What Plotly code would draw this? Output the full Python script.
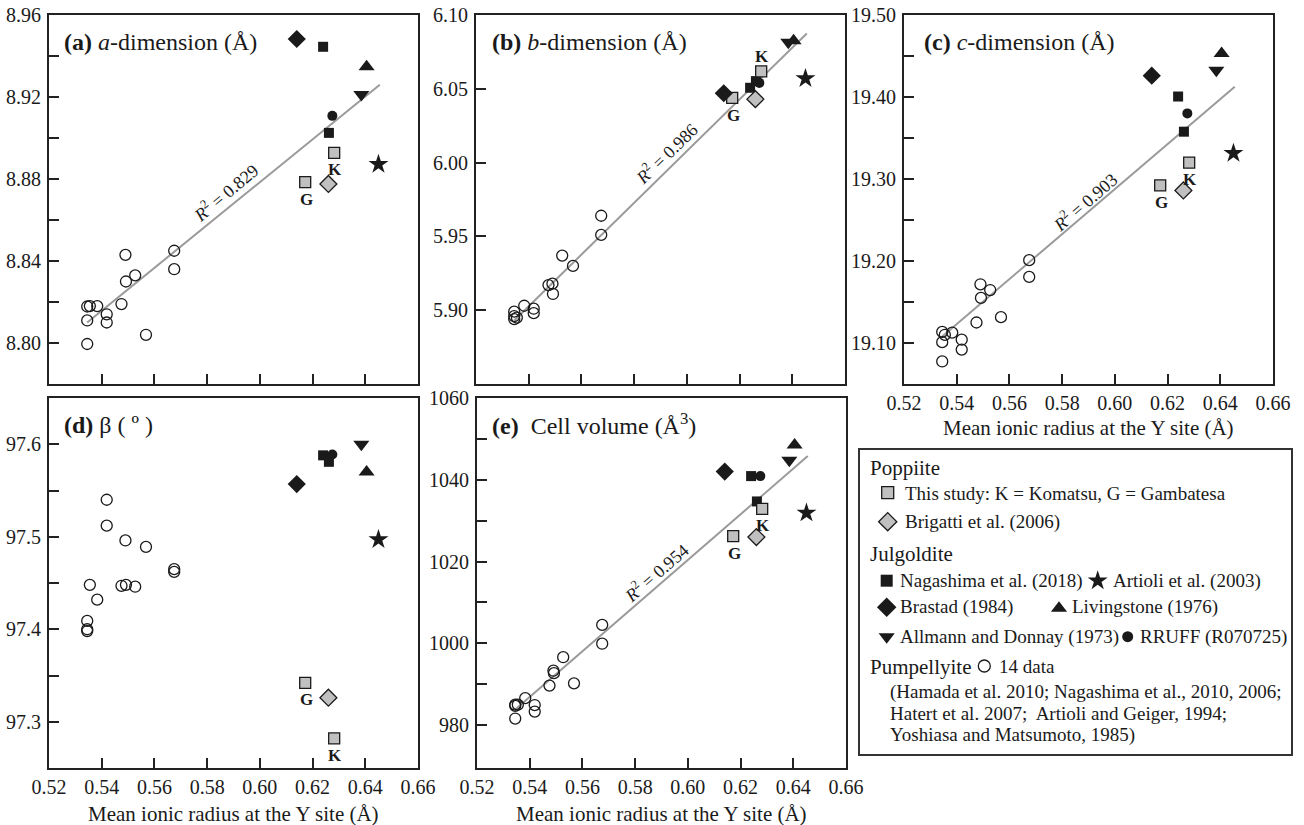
import plotly.graph_objects as go

W, H = 1304, 825
FONT = "Liberation Serif"
INK = "#1a1a1a"
GRAY = "#c0c0c0"
LINE_GRAY = "#9a9a9a"

# ---------------- data ----------------
x_ticks = [0.52, 0.54, 0.56, 0.58, 0.60, 0.62, 0.64, 0.66]
a_ticks = [8.80, 8.84, 8.88, 8.92, 8.96]
b_ticks = [5.90, 5.95, 6.00, 6.05, 6.10]
c_ticks = [19.10, 19.20, 19.30, 19.40, 19.50]
beta_ticks = [97.3, 97.4, 97.5, 97.6]
v_ticks = [980, 1000, 1020, 1040, 1060]
v_minor = [990, 1010, 1030, 1050]

# Pumpellyite, 14 data
x_pump = [0.5345, 0.5345, 0.5345, 0.5355, 0.5383, 0.5419, 0.5419,
          0.5475, 0.5490, 0.5492, 0.5527, 0.5568, 0.5675, 0.5675]
a_pump = [8.8178, 8.8110, 8.7995, 8.8180, 8.8180, 8.8140, 8.8100,
          8.8190, 8.8430, 8.8300, 8.8330, 8.8040, 8.8450, 8.8360]
b_pump = [5.8990, 5.8940, 5.8960, 5.8950, 5.9030, 5.9010, 5.8980,
          5.9170, 5.9180, 5.9110, 5.9370, 5.9300, 5.9640, 5.9510]
c_pump = [19.1135, 19.1010, 19.0775, 19.1100, 19.1127, 19.1040, 19.0920,
          19.1250, 19.1716, 19.1550, 19.1646, 19.1315, 19.2010, 19.1806]
beta_pump = [97.409, 97.400, 97.398, 97.448, 97.432, 97.540, 97.512,
             97.447, 97.496, 97.448, 97.446, 97.489, 97.465, 97.462]
v_pump = [984.7, 981.6, 985.0, 985.0, 986.6, 984.9, 983.3,
          989.65, 993.3, 992.7, 996.6, 990.2, 1004.5, 999.9]

# Poppiite, this study (G = Gambatesa, K = Komatsu)
this_labels = ["G", "K"]
x_this = [0.6172, 0.6282]
a_this = [8.8785, 8.8927]
b_this = [6.0439, 6.0618]
c_this = [19.2922, 19.3200]
beta_this = [97.342, 97.282]
v_this = [1026.2, 1032.9]

# Poppiite, Brigatti et al. (2006)
x_brig = [0.6260]
a_brig = [8.8776]
b_brig = [6.0430]
c_brig = [19.2860]
beta_brig = [97.326]
v_brig = [1026.0]

# Julgoldite, Nagashima et al. (2018)
x_naga = [0.6240, 0.6262]
a_naga = [8.9445, 8.9025]
b_naga = [6.0507, 6.0552]
c_naga = [19.4006, 19.3577]
beta_naga = [97.588, 97.581]
v_naga = [1040.9, 1034.7]

# Julgoldite, Artioli et al. (2003)
x_art = [0.6450]
a_art = [8.8872]
b_art = [6.0570]
c_art = [19.3315]
beta_art = [97.497]
v_art = [1031.9]

# Julgoldite, Brastad (1984)
x_bras = [0.6140]
a_bras = [8.9483]
b_bras = [6.0470]
c_bras = [19.4260]
beta_bras = [97.557]
v_bras = [1042.0]

# Julgoldite, Livingstone (1976)
x_liv = [0.6405]
a_liv = [8.9347]
b_liv = [6.0825]
c_liv = [19.4530]
beta_liv = [97.570]
v_liv = [1048.5]

# Julgoldite, Allmann and Donnay (1973)
x_all = [0.6385]
a_all = [8.9212]
b_all = [6.0816]
c_all = [19.4325]
beta_all = [97.600]
v_all = [1044.8]

# Julgoldite, RRUFF (R070725)
x_rruff = [0.6275]
a_rruff = [8.9108]
b_rruff = [6.0540]
c_rruff = [19.3800]
beta_rruff = [97.589]
v_rruff = [1040.9]

# Regression lines (end points)
fit_x = [0.5345, 0.6455]
fit_a = [8.810, 8.926]
fit_b = [5.893, 6.0875]
fit_c = [19.108, 19.4125]
fit_v = [983.8, 1045.8]
r2_text = ["0.829", "0.986", "0.903", "0.954"]

# ---------------- layout geometry (pixels) ----------------
def px_x(p):
    return p / W

def px_y(p):
    return 1 - p / H

panels = {
    "a": dict(x0=49, x1=418, y0=15, y1=384),
    "b": dict(x0=476, x1=845, y0=15, y1=384),
    "c": dict(x0=904, x1=1273, y0=15, y1=384),
    "d": dict(x0=49, x1=418, y0=398, y1=768),
    "e": dict(x0=477, x1=846, y0=398, y1=768),
}

fig = go.Figure()

marker_styles = {
    "pump": dict(symbol="circle-open", size=11, color=INK, line=dict(width=1.3, color=INK)),
    "this": dict(symbol="square", size=11, color=GRAY, line=dict(width=1.3, color=INK)),
    "brig": dict(symbol="diamond", size=13, color=GRAY, line=dict(width=1.3, color=INK)),
    "naga": dict(symbol="square", size=10, color=INK, line=dict(width=0, color=INK)),
    "art": dict(symbol="star", size=15, color=INK, line=dict(width=0, color=INK)),
    "bras": dict(symbol="diamond", size=14, color=INK, line=dict(width=0, color=INK)),
    "liv": dict(symbol="triangle-up", size=14, color=INK, line=dict(width=0, color=INK)),
    "all": dict(symbol="triangle-down", size=14, color=INK, line=dict(width=0, color=INK)),
    "rruff": dict(symbol="circle", size=10, color=INK, line=dict(width=0, color=INK)),
}

panel_data = [
    ("a", "", dict(pump=a_pump, this=a_this, brig=a_brig, rruff=a_rruff, naga=a_naga,
                   art=a_art, bras=a_bras, liv=a_liv, all=a_all), fit_a),
    ("b", "2", dict(pump=b_pump, this=b_this, brig=b_brig, rruff=b_rruff, naga=b_naga,
                    art=b_art, bras=b_bras, liv=b_liv, all=b_all), fit_b),
    ("c", "3", dict(pump=c_pump, this=c_this, brig=c_brig, rruff=c_rruff, naga=c_naga,
                    art=c_art, bras=c_bras, liv=c_liv, all=c_all), fit_c),
    ("d", "4", dict(pump=beta_pump, this=beta_this, brig=beta_brig, rruff=beta_rruff, naga=beta_naga,
                    art=beta_art, bras=beta_bras, liv=beta_liv, all=beta_all), None),
    ("e", "5", dict(pump=v_pump, this=v_this, brig=v_brig, rruff=v_rruff, naga=v_naga,
                    art=v_art, bras=v_bras, liv=v_liv, all=v_all), fit_v),
]

x_by_series = dict(pump=x_pump, this=x_this, brig=x_brig, rruff=x_rruff, naga=x_naga,
                   art=x_art, bras=x_bras, liv=x_liv, all=x_all)

annotations = []

for key, sfx, series, fit in panel_data:
    xa, ya = "x" + sfx, "y" + sfx
    if fit is not None:
        fig.add_trace(go.Scatter(x=fit_x, y=fit, mode="lines", xaxis=xa, yaxis=ya,
                                 line=dict(color=LINE_GRAY, width=2), hoverinfo="skip",
                                 showlegend=False))
    for name in ["pump", "rruff", "naga", "this", "brig", "art", "bras", "liv", "all"]:
        fig.add_trace(go.Scatter(x=x_by_series[name], y=series[name], mode="markers",
                                 xaxis=xa, yaxis=ya, marker=marker_styles[name],
                                 hoverinfo="skip", showlegend=False, cliponaxis=False))
    # G / K labels
    for lab, xv, yv in zip(this_labels, x_this, series["this"]):
        shift = -17
        if key == "b" and lab == "K":
            shift = 15
        if key == "b" and lab == "G":
            shift = -18
        annotations.append(dict(x=xv, y=yv, xref=xa, yref=ya, text="<b>%s</b>" % lab,
                                showarrow=False, yshift=shift, xshift=1,
                                font=dict(family=FONT, size=17, color=INK)))

# R^2 annotations along regression lines
r2_pos = [
    ("", 0.5870, 8.8732, -40),
    ("2", 0.5920, 6.0064, -44),
    ("3", 0.5888, 19.272, -41),
    ("5", 0.5879, 1017.3, -41),
]
for (sfx, xv, yv, ang), r2 in zip(r2_pos, r2_text):
    annotations.append(dict(x=xv, y=yv, xref="x" + sfx, yref="y" + sfx,
                            text="<i>R</i><sup>2</sup> = %s" % r2, textangle=ang,
                            showarrow=False, font=dict(family=FONT, size=18, color=INK)))

# Panel titles
titles = [
    ("a", "<b>(a)</b> <i>a</i>-dimension (Å)", 62, 42),
    ("b", "<b>(b)</b> <i>b</i>-dimension (Å)", 490, 42),
    ("c", "<b>(c)</b> <i>c</i>-dimension (Å)", 922, 42),
    ("d", "<b>(d)</b> β ( º )", 62, 425),
    ("e", "<b>(e)</b>  Cell volume (Å<sup>3</sup>)", 490, 424),
]
for _, txt, tx, ty in titles:
    annotations.append(dict(x=px_x(tx), y=px_y(ty), xref="paper", yref="paper",
                            xanchor="left", yanchor="middle", text=txt, showarrow=False,
                            font=dict(family=FONT, size=24, color=INK)))

# X axis titles
xtitle = "Mean ionic radius at the Y site (Å)"
for key, ty in [("c", 428), ("d", 814), ("e", 814)]:
    p = panels[key]
    annotations.append(dict(x=px_x((p["x0"] + p["x1"]) / 2), y=px_y(ty), xref="paper", yref="paper",
                            xanchor="center", yanchor="middle", text=xtitle, showarrow=False,
                            font=dict(family=FONT, size=21, color=INK)))

# ---------------- axes ----------------
def base_axis():
    return dict(showline=True, linecolor="#222", linewidth=2, mirror=True,
                ticks="inside", ticklen=10, tickwidth=2, tickcolor="#222",
                showgrid=False, zeroline=False, fixedrange=True, automargin=False,
                tickfont=dict(family=FONT, size=20, color=INK))

minor_style = dict(ticks="inside", ticklen=10, tickwidth=2, tickcolor="#222")
y_specs = {
    "a": dict(range=[8.78, 8.96], tickvals=a_ticks, ticktext=["%.2f" % v for v in a_ticks],
              minor=dict(dtick=0.02, tick0=8.80, **minor_style)),
    "b": dict(range=[5.85, 6.10], tickvals=b_ticks, ticktext=["%.2f" % v for v in b_ticks]),
    "c": dict(range=[19.05, 19.50], tickvals=c_ticks, ticktext=["%.2f" % v for v in c_ticks],
              minor=dict(dtick=0.05, tick0=19.10, **minor_style)),
    "d": dict(range=[97.25, 97.65], tickvals=beta_ticks, ticktext=["%.1f" % v for v in beta_ticks],
              minor=dict(dtick=0.05, tick0=97.30, **minor_style)),
    "e": dict(range=[969.5, 1060], tickvals=v_ticks, ticktext=["%d" % v for v in v_ticks],
              minor=dict(tickvals=v_minor, **minor_style)),
}

layout_axes = {}
for key, sfx, _, _ in panel_data:
    p = panels[key]
    xa = base_axis()
    xa.update(domain=[px_x(p["x0"]), px_x(p["x1"])], range=[0.52, 0.66],
              tickvals=x_ticks, ticktext=["%.2f" % v for v in x_ticks],
              showticklabels=key in ("c", "d", "e"), anchor="y" + sfx,
              ticklabelstandoff=0)
    ya = base_axis()
    ya.update(domain=[px_y(p["y1"]), px_y(p["y0"])], anchor="x" + sfx, ticklabelstandoff=2)
    ya.update(y_specs[key])
    layout_axes["xaxis" + sfx] = xa
    layout_axes["yaxis" + sfx] = ya

# ---------------- legend box (pixel coordinates) ----------------
LB = dict(x0=860, x1=1291, y0=450, y1=754)
layout_axes["xaxis6"] = dict(domain=[px_x(LB["x0"]), px_x(LB["x1"])], range=[LB["x0"], LB["x1"]],
                             showline=True, mirror=True, linecolor="#333", linewidth=1.6,
                             showticklabels=False, ticks="", showgrid=False, zeroline=False,
                             anchor="y6", fixedrange=True, automargin=False)
layout_axes["yaxis6"] = dict(domain=[px_y(LB["y1"]), px_y(LB["y0"])], range=[LB["y1"], LB["y0"]],
                             showline=True, mirror=True, linecolor="#333", linewidth=1.6,
                             showticklabels=False, ticks="", showgrid=False, zeroline=False,
                             anchor="x6", fixedrange=True, automargin=False)

legend_markers = [
    ("this", 887.7, 492.7, 12),
    ("brig", 887.7, 521.7, 14),
    ("naga", 886.7, 580.7, 12),
    ("art", 1097.7, 580.7, 15),
    ("bras", 886.7, 607.3, 15),
    ("liv", 1059.0, 608.3, 14),
    ("all", 886.7, 636.7, 14),
    ("rruff", 1127.7, 636.7, 11),
    ("pump", 984.3, 666.0, 12),
]
for name, mx, my, ms in legend_markers:
    st = dict(marker_styles[name])
    st["size"] = ms
    fig.add_trace(go.Scatter(x=[mx], y=[my], mode="markers", xaxis="x6", yaxis="y6",
                             marker=st, hoverinfo="skip", showlegend=False, cliponaxis=False))

legend_texts = [
    ("Poppiite", 867.7, 467.7, 21),
    ("This study: K = Komatsu, G = Gambatesa", 903.3, 493.3, 19),
    ("Brigatti et al. (2006)", 903.3, 521.7, 19),
    ("Julgoldite", 867.7, 554.0, 21),
    ("Nagashima et al. (2018)", 897.7, 580.7, 19),
    ("Artioli et al. (2003)", 1111.0, 580.7, 19),
    ("Brastad (1984)", 897.7, 607.3, 19),
    ("Livingstone (1976)", 1070.0, 607.3, 19),
    ("Allmann and Donnay (1973)", 897.7, 636.7, 19),
    ("RRUFF (R070725)", 1137.7, 636.7, 19),
    ("Pumpellyite", 867.7, 666.7, 21),
    ("14 data", 996.7, 666.7, 19),
    ("(Hamada et al. 2010; Nagashima et al., 2010, 2006;", 888.3, 691.7, 19),
    ("Hatert et al. 2007;  Artioli and Geiger, 1994;", 888.3, 713.3, 19),
    ("Yoshiasa and Matsumoto, 1985)", 888.3, 735.0, 19),
]
for txt, tx, ty, fs in legend_texts:
    annotations.append(dict(x=tx, y=ty, xref="x6", yref="y6", xanchor="left", yanchor="middle",
                            text=txt.replace("  ", "&nbsp; "), showarrow=False,
                            font=dict(family=FONT, size=fs, color=INK)))

fig.update_layout(
    width=W, height=H,
    margin=dict(l=0, r=0, t=0, b=0, autoexpand=False),
    paper_bgcolor="white", plot_bgcolor="white",
    showlegend=False, hovermode=False,
    annotations=annotations,
    font=dict(family=FONT, color=INK),
    **layout_axes,
)

fig.write_html("out.html", config={"displayModeBar": False},
               post_script="document.body.style.margin='0';document.body.style.overflow='hidden';")
